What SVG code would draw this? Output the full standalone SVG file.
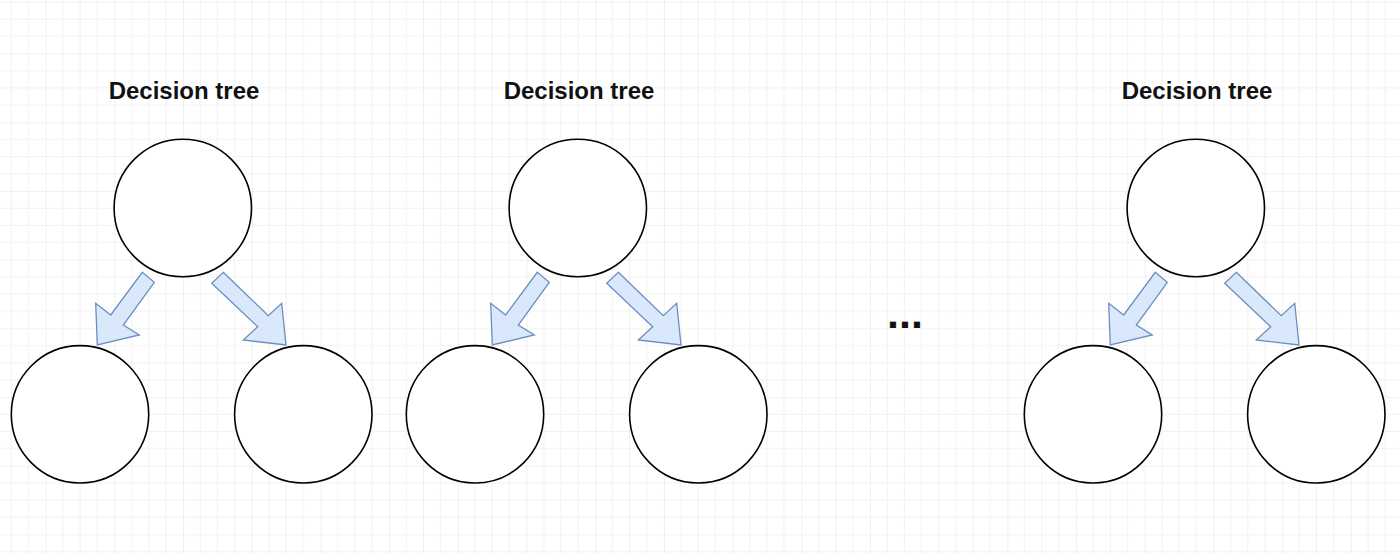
<svg xmlns="http://www.w3.org/2000/svg" xmlns:xlink="http://www.w3.org/1999/xlink" width="1400" height="553" viewBox="0 0 1400 553">
  <style>
    .node { fill: #ffffff; stroke: #000000; stroke-width: 1.6; }
    .arrow { fill: #dae8fc; stroke: #6c8ebf; stroke-width: 1.3; stroke-linejoin: miter; }
    .title { font-family: "Liberation Sans", Arial, sans-serif; font-weight: bold; font-size: 24px; fill: #111111; text-anchor: middle; }
    .dots { font-family: "Liberation Sans", Arial, sans-serif; font-weight: bold; font-size: 43px; fill: #111111; }
  </style>
  <defs>
    <pattern id="grid" patternUnits="userSpaceOnUse" x="45.7" y="53.6" width="68.69" height="68.69">
      <path d="M17.17 0V68.69M34.35 0V68.69M51.52 0V68.69M0 17.17H68.69M0 34.35H68.69M0 51.52H68.69" fill="none" stroke="#f1f1f1" stroke-width="1"/>
      <path d="M0 0V68.69M0 0H68.69" fill="none" stroke="#e3e3e3" stroke-width="1"/>
    </pattern>
    <polygon id="arrowLeft" class="arrow" points="142.3,272.3 154.3,282.3 123.3,325 139.3,335 97.3,345 95.7,303.3 110.7,315"/>
    <polygon id="arrowRight" class="arrow" points="223.3,272.3 268.3,315.7 281.7,303.3 286,345 243.3,340 257.7,326.7 211.7,283.3"/>
  </defs>
  <rect width="1400" height="553" fill="#ffffff"/>
  <rect width="1400" height="553" fill="url(#grid)"/>

  <g id="titles">
    <text class="title" x="184" y="99">Decision tree</text>
    <text class="title" x="579" y="99">Decision tree</text>
    <text class="title" x="1197" y="99">Decision tree</text>
  </g>

  <g id="connectors">
    <use xlink:href="#arrowLeft"/>
    <use xlink:href="#arrowRight"/>
    <use xlink:href="#arrowLeft" transform="translate(395,0)"/>
    <use xlink:href="#arrowRight" transform="translate(395,0)"/>
    <use xlink:href="#arrowLeft" transform="translate(1013,0)"/>
    <use xlink:href="#arrowRight" transform="translate(1013,0)"/>
  </g>

  <g id="tree1-root"><circle class="node" cx="182.8" cy="208" r="68.7"/></g>
  <g id="tree1-left"><circle class="node" cx="80" cy="414.3" r="68.7"/></g>
  <g id="tree1-right"><circle class="node" cx="303.3" cy="414.3" r="68.7"/></g>

  <g id="tree2-root"><circle class="node" cx="577.8" cy="208" r="68.7"/></g>
  <g id="tree2-left"><circle class="node" cx="475" cy="414.3" r="68.7"/></g>
  <g id="tree2-right"><circle class="node" cx="698.3" cy="414.3" r="68.7"/></g>

  <g id="tree3-root"><circle class="node" cx="1195.8" cy="208" r="68.7"/></g>
  <g id="tree3-left"><circle class="node" cx="1093" cy="414.3" r="68.7"/></g>
  <g id="tree3-right"><circle class="node" cx="1316.3" cy="414.3" r="68.7"/></g>

  <g id="ellipsis">
    <text class="dots" x="887" y="328">...</text>
  </g>
</svg>
